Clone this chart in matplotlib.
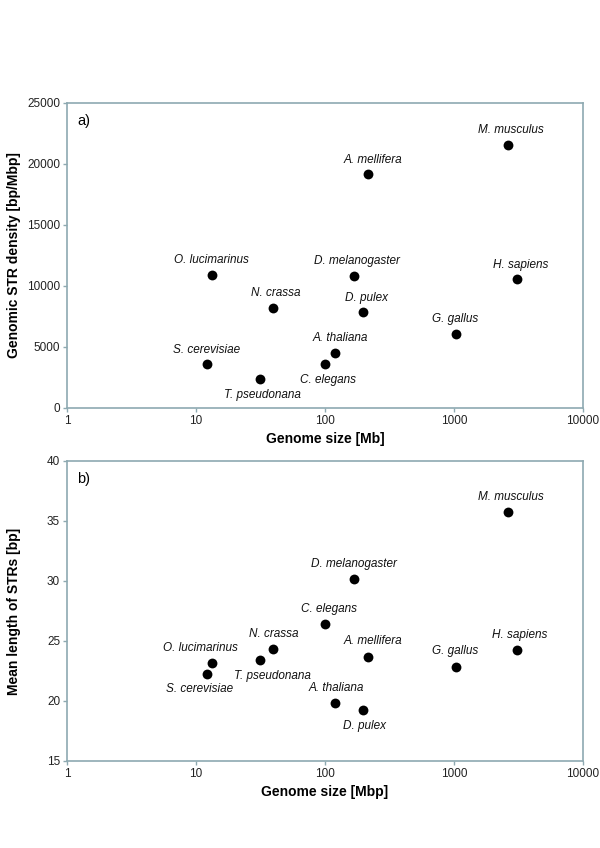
import matplotlib
matplotlib.use("Agg")
import matplotlib.pyplot as plt
from matplotlib.ticker import FixedLocator, FixedFormatter

plt.rcParams['font.family'] = ['Liberation Sans', 'DejaVu Sans']

# species data
species = ["S. cerevisiae", "T. pseudonana", "O. lucimarinus", "N. crassa",
           "C. elegans", "A. thaliana", "D. melanogaster", "D. pulex",
           "A. mellifera", "G. gallus", "M. musculus", "H. sapiens"]
genome_size = [12.1, 31.4, 13.2, 39.3, 100, 118.6, 169, 198, 217, 1028, 2630, 3055]
str_density = [3570, 2350, 10920, 8190, 3590, 4540, 10840, 7840, 19160, 6080, 21570, 10540]
mean_length = [22.29, 23.40, 23.18, 24.34, 26.43, 19.84, 30.18, 19.23, 23.70, 22.87, 35.72, 24.26]

x_ticks = [1, 10, 100, 1000, 10000]

# label placement in points (dx, dy) for each panel
offs_a = [(0, 10.5), (2, -11.5), (0, 10.5), (2, 10.5), (2, -11.5), (4, 10.5),
          (2, 10.5), (2, 10.5), (3, 10.5), (0, 10.5), (2, 10.5), (3, 10.5)]
offs_b = [(-5, -11.5), (9, -11.5), (-8, 11), (1, 10.5), (3, 11), (1, 11),
          (0, 10.5), (1, -11.5), (3, 11), (0, 11), (2, 11), (2, 11)]

edge = "#8ea9b1"

fig = plt.figure(figsize=(6, 8.48), dpi=100)
ax1 = fig.add_axes([0.1117, 0.5189, 0.86, 0.3597])
ax2 = fig.add_axes([0.1117, 0.1026, 0.86, 0.3538])


def style(ax, ylim, yticks, xlabel, ylabel, tag, offs, yvals):
    ax.scatter(genome_size, yvals, s=50, color="black", zorder=3, linewidths=0)
    for name, x, y, (dx, dy) in zip(species, genome_size, yvals, offs):
        ax.annotate(name, (x, y), xytext=(dx, dy), textcoords="offset points",
                    ha="center", va="center", fontsize=8.5, style="italic", color="#111111")
    ax.set_xscale("log")
    ax.set_xlim(1, 10000)
    ax.set_ylim(*ylim)
    ax.xaxis.set_major_locator(FixedLocator(x_ticks))
    ax.xaxis.set_major_formatter(FixedFormatter([str(t) for t in x_ticks]))
    ax.xaxis.set_minor_locator(FixedLocator([]))
    ax.set_yticks(yticks)
    for s in ax.spines.values():
        s.set_color(edge)
        s.set_linewidth(1.2)
    ax.tick_params(direction="out", length=3, width=1, color=edge,
                   labelsize=8.5, labelcolor="#222222", pad=2)
    ax.set_xlabel(xlabel, fontsize=10, fontweight="bold", labelpad=4)
    ax.set_ylabel(ylabel, fontsize=10, fontweight="bold")
    ax.yaxis.set_label_coords(-0.09, 0.5)
    ax.text(0.02, 0.94, tag, transform=ax.transAxes, fontsize=10.5,
            ha="left", va="center")


style(ax1, (0, 25000), [0, 5000, 10000, 15000, 20000, 25000],
      "Genome size [Mb]", "Genomic STR density [bp/Mbp]", "a)", offs_a, str_density)
style(ax2, (15, 40), [15, 20, 25, 30, 35, 40],
      "Genome size [Mbp]", "Mean length of STRs [bp]", "b)", offs_b, mean_length)

fig.savefig("out.png", dpi=100)
